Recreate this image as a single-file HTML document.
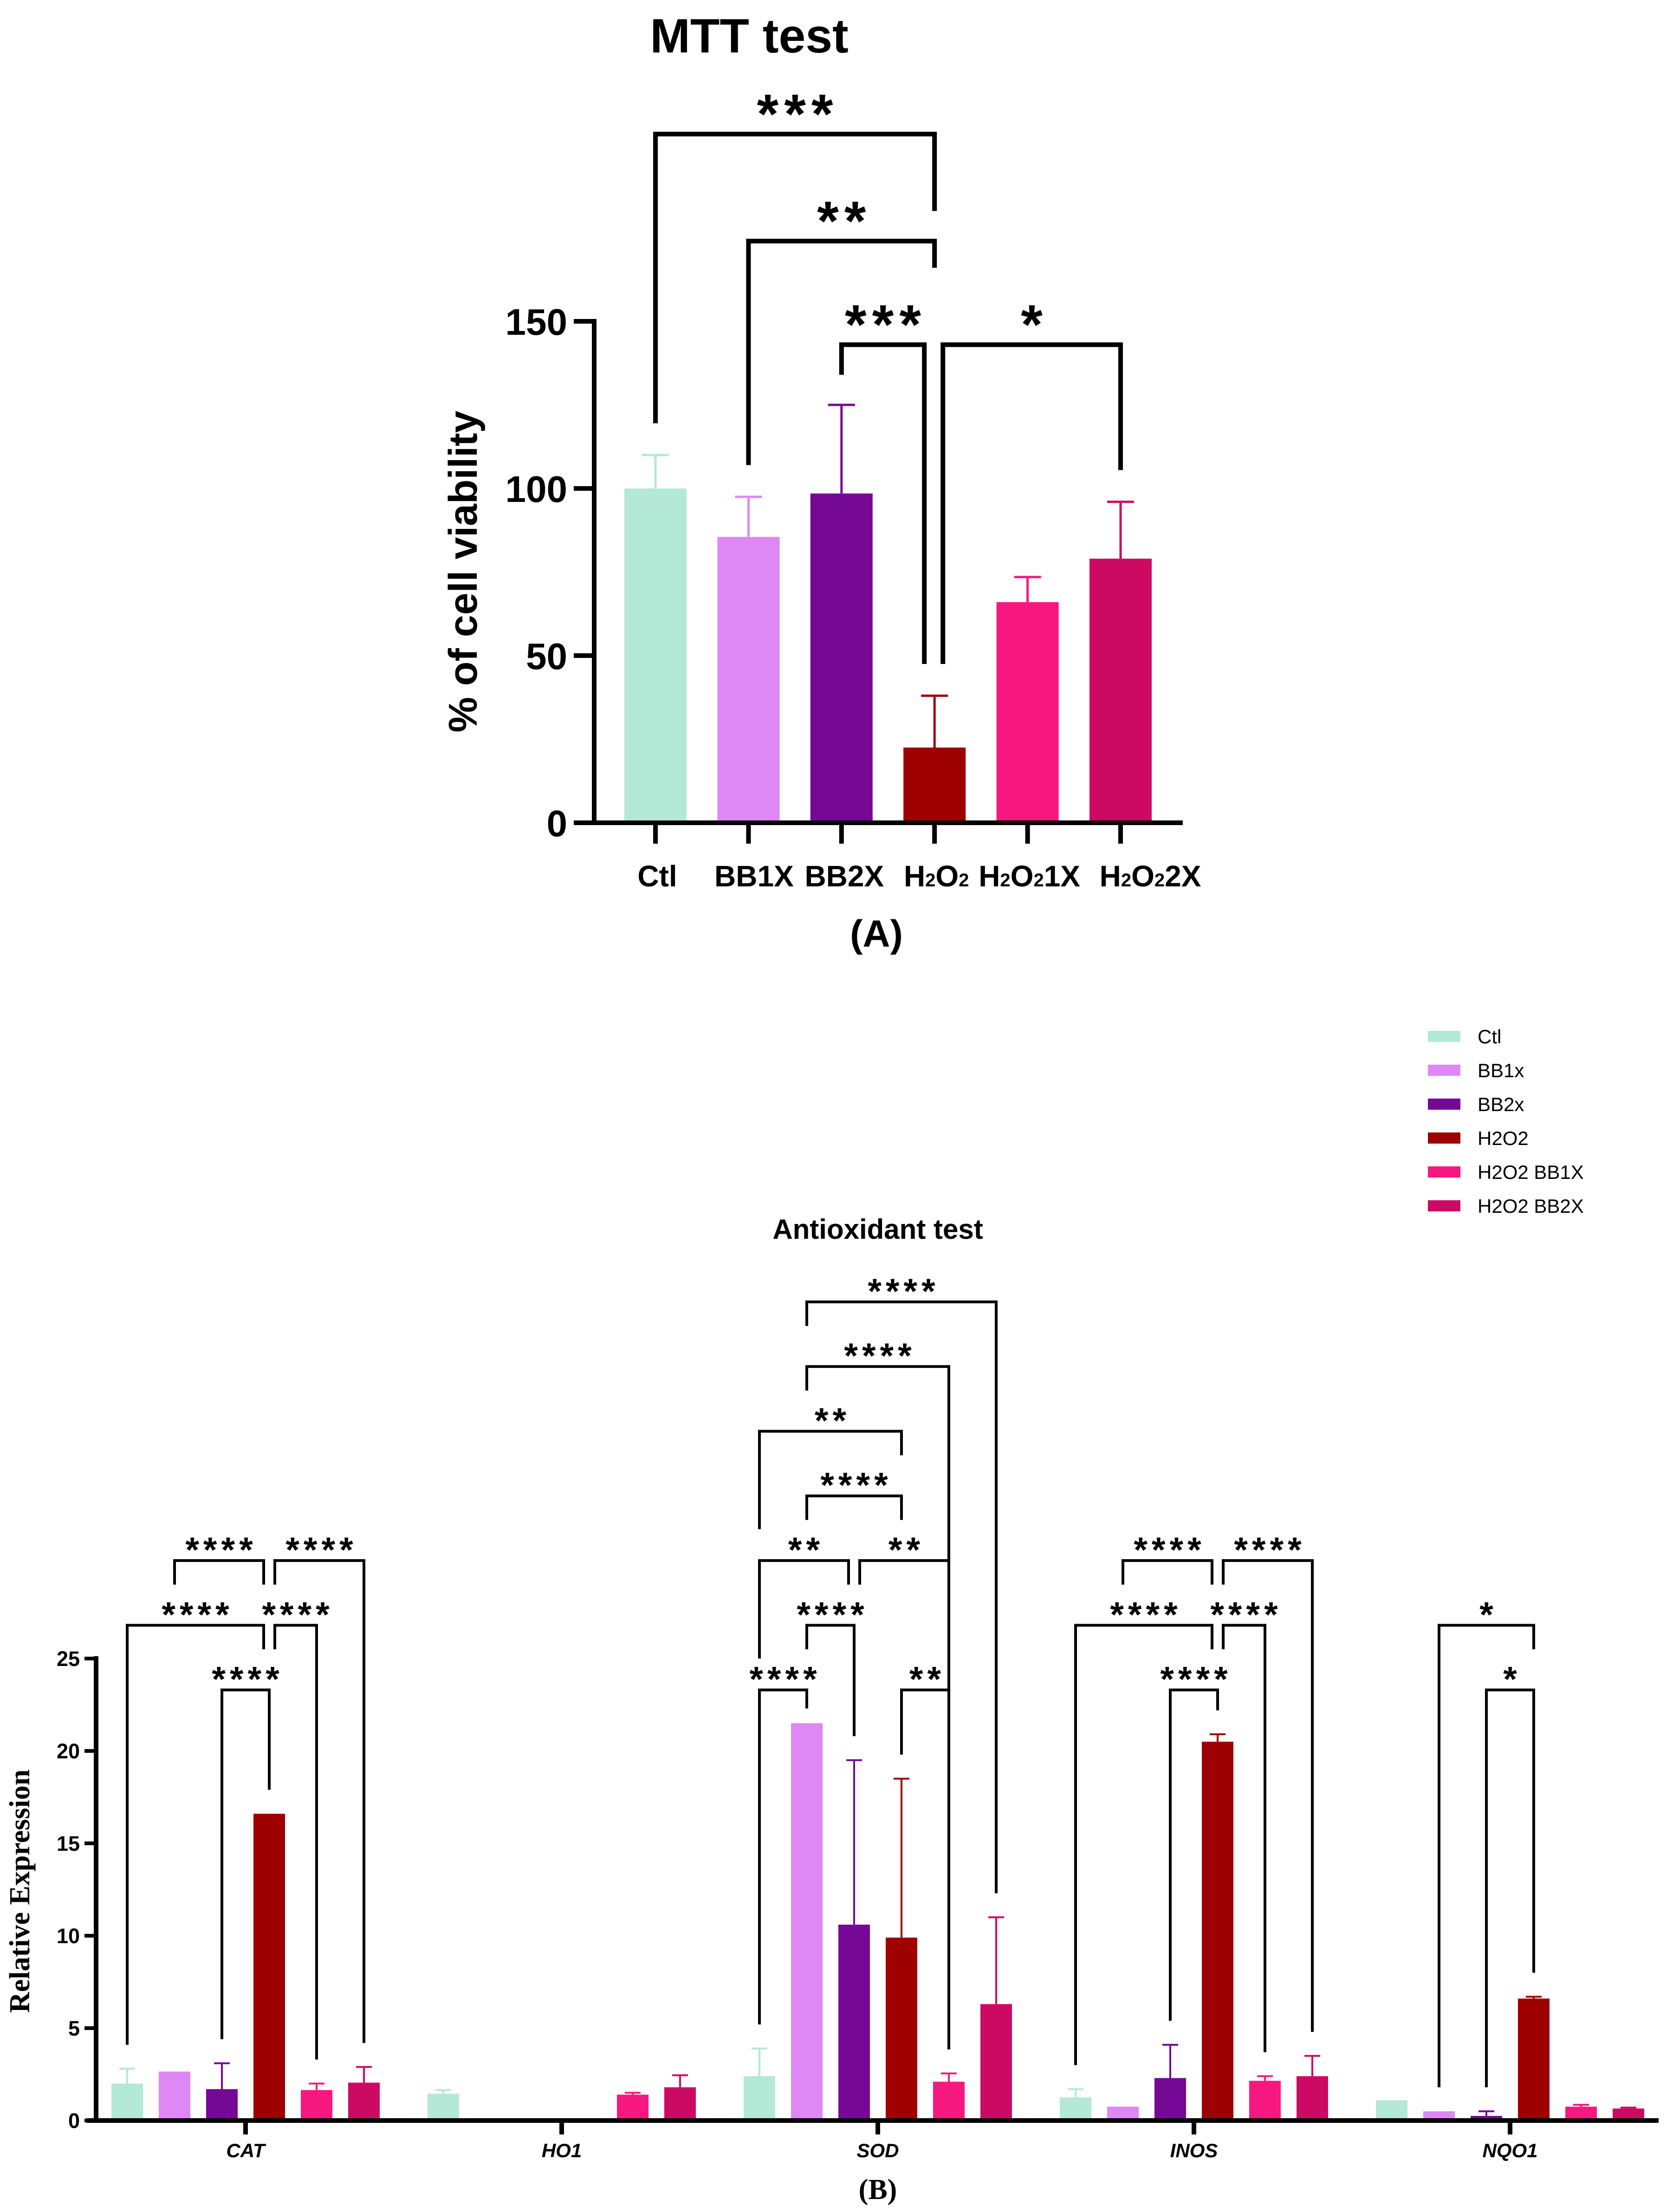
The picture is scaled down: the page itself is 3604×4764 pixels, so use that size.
<!DOCTYPE html>
<html>
<head>
<meta charset="utf-8">
<style>
html,body{margin:0;padding:0;background:#fff;}
svg{display:block;}
text{font-family:"Liberation Sans",sans-serif;}
</style>
</head>
<body>
<svg id="fig" xmlns="http://www.w3.org/2000/svg" width="3604" height="4764" viewBox="0 0 3604 4764">
<rect x="0" y="0" width="3604" height="4764" fill="#fff"/>
<g id="chartA"></g>
<g id="chartB"></g>
</svg>
<script>
// ---------- Panel A data ----------
const mttCategories = ["Ctl", "BB1X", "BB2X", "H_2O_2", "H_2O_21X", "H_2O_22X"];
const mttValues = [100, 85.5, 98.5, 22.5, 66, 79];
const mttErrors = [10, 12, 26.5, 15.5, 7.5, 17];
const mttTicks = [0, 50, 100, 150];
// ---------- Panel B data ----------
const genes = ["CAT", "HO1", "SOD", "INOS", "NQO1"];
const groupNames = ["Ctl", "BB1x", "BB2x", "H2O2", "H2O2 BB1X", "H2O2 BB2X"];
const valCtl   = [2.0, 1.45, 2.4, 1.25, 1.1];
const valBB1x  = [2.65, 0, 21.5, 0.75, 0.5];
const valBB2x  = [1.7, 0, 10.6, 2.3, 0.25];
const valH2O2  = [16.6, 0, 9.9, 20.5, 6.6];
const valH2O2BB1X = [1.65, 1.4, 2.1, 2.15, 0.75];
const valH2O2BB2X = [2.05, 1.8, 6.3, 2.4, 0.65];
const errCtl   = [0.8, 0.2, 1.5, 0.45, 0];
const errBB1x  = [0, 0, 0, 0, 0];
const errBB2x  = [1.4, 0, 8.9, 1.8, 0.25];
const errH2O2  = [0, 0, 8.6, 0.4, 0.1];
const errH2O2BB1X = [0.35, 0.1, 0.45, 0.25, 0.1];
const errH2O2BB2X = [0.85, 0.65, 4.7, 1.1, 0.05];
const bTicks = [0, 5, 10, 15, 20, 25];

const colors = ["#b3e9d6", "#dd88f5", "#760896", "#9f0000", "#f7187f", "#cd0a63"];
const NS = "http://www.w3.org/2000/svg";
function mk(parent, tag, attrs, txt){
  const e = document.createElementNS(NS, tag);
  for (const k in attrs) e.setAttribute(k, attrs[k]);
  if (txt !== undefined) e.textContent = txt;
  parent.appendChild(e);
  return e;
}

// ================= PANEL A =================
(function(){
  const g = document.getElementById('chartA');
  const y0 = 1772, pxU = 7.2;
  const yA = v => y0 - v * pxU;
  const xA = i => 1412 + i * 200.4;
  const bw = 134;
  const labelShift = [4, 12, 6, 4, 4, 64];

  const t = mk(g, 'text', {x:1614, y:113, 'font-size':104, 'font-weight':'bold', 'text-anchor':'middle'}, 'MTT test');
  
  

  mttValues.forEach((v, i) => {
    const r = mk(g, 'rect', {x:xA(i)-bw/2, y:yA(v), width:bw, height:y0-yA(v), fill:colors[i]});
    
    
    const top = yA(v + mttErrors[i]);
    const e = mk(g, 'path', {d:`M${xA(i)},${yA(v)} V${top} M${xA(i)-29},${top} H${xA(i)+29}`, stroke:colors[i], 'stroke-width':5, fill:'none'});
    
    
    const tk = mk(g, 'line', {x1:xA(i), y1:y0, x2:xA(i), y2:y0+45, stroke:'#000', 'stroke-width':10});
    
    
    const lb = mk(g, 'text', {x:xA(i) + labelShift[i], y:1909, 'font-size':64, 'font-weight':'bold', 'text-anchor':'middle'});
    
    
    const parts = mttCategories[i].split('_');
    parts.forEach((p, j) => {
      if (j === 0) { mk(lb, 'tspan', {}, p); return; }
      mk(lb, 'tspan', {'font-size':40}, p[0]);
      if (p.length > 1) mk(lb, 'tspan', {}, p.slice(1));
    });
  });

  const ax = mk(g, 'path', {d:`M1280,${yA(150)-5} V${y0} M1236,${y0} H2548`, stroke:'#000', 'stroke-width':10, fill:'none'});
  
  
  mttTicks.forEach(v => {
    const tk = mk(g, 'line', {x1:1236, y1:yA(v), x2:1280, y2:yA(v), stroke:'#000', 'stroke-width':10});
    
    
    const tl = mk(g, 'text', {x:1222, y:yA(v)+29, 'font-size':80, 'font-weight':'bold', 'text-anchor':'end'}, String(v));
    
    
  });
  const yt = mk(g, 'text', {x:0, y:0, 'font-size':86, 'font-weight':'bold', 'text-anchor':'middle', transform:'translate(1027,1231) rotate(-90)'}, '% of cell viability');
  
  
  const pl = mk(g, 'text', {x:1888, y:2039, 'font-size':82, 'font-weight':'bold', 'text-anchor':'middle'}, '(A)');
  
  

  // significance brackets: [i1, off1, leg1, i2, off2, leg2, level, stars]
  const brA = [
    [0, 0, 'b', 3, 0, 183, 206, '***'],
    [1, 0, 'b', 3, 0, 166, 174, '**'],
    [2, 0, 134, 3, -22, 'b', 143, '***'],
    [3, 18, 'b', 5, 0, 'b', 143, '*']
  ];
  const legEnd = (i, leg) => leg === 'b' ? mttValues[i] + mttErrors[i] + 9.5 : leg;
  brA.forEach(b => {
    const x1 = xA(b[0]) + b[1], x2 = xA(b[3]) + b[4], ly = yA(b[6]);
    const p = mk(g, 'path', {d:`M${x1},${yA(legEnd(b[0], b[2]))} V${ly} H${x2} V${yA(legEnd(b[3], b[5]))}`, stroke:'#000', 'stroke-width':10, fill:'none'});
    
    
    const F = 120, ls = 12;
    const s = mk(g, 'text', {x:(x1+x2)/2 + ls/2, y:ly - 70 + 0.565*F, 'font-size':F, 'font-weight':'bold', 'text-anchor':'middle', 'letter-spacing':ls}, b[7]);
    
    
  });
})();

// ================= PANEL B =================
(function(){
  const g = document.getElementById('chartB');
  const y0 = 4567, pxU = 39.8;
  const yB = v => y0 - v * pxU;
  const gx = k => 529 + k * 681;
  const bx = (k, i) => gx(k) + (i - 2.5) * 102;
  const bw = 68;
  const vals = [valCtl, valBB1x, valBB2x, valH2O2, valH2O2BB1X, valH2O2BB2X];
  const errs = [errCtl, errBB1x, errBB2x, errH2O2, errH2O2BB1X, errH2O2BB2X];

  groupNames.forEach((n, i) => {
    const r = mk(g, 'rect', {x:3076, y:2220 + i*73, width:70, height:24, fill:colors[i]});
    
    
    const t = mk(g, 'text', {x:3183, y:2247 + i*73, 'font-size':42}, n);
    
    
  });
  const ti = mk(g, 'text', {x:1891, y:2668, 'font-size':60, 'font-weight':'bold', 'text-anchor':'middle'}, 'Antioxidant test');
  
  

  genes.forEach((gn, k) => {
    vals.forEach((arr, i) => {
      const v = arr[k];
      if (v <= 0) return;
      const r = mk(g, 'rect', {x:bx(k,i)-bw/2, y:yB(v), width:bw, height:y0-yB(v), fill:colors[i]});
      
      
      const e = errs[i][k];
      if (e > 0) {
        const top = yB(v + e);
        const p = mk(g, 'path', {d:`M${bx(k,i)},${yB(v)} V${top} M${bx(k,i)-17},${top} H${bx(k,i)+17}`, stroke:colors[i], 'stroke-width':4, fill:'none'});
        
        
      }
    });
    const tk = mk(g, 'line', {x1:gx(k), y1:y0, x2:gx(k), y2:y0+30, stroke:'#000', 'stroke-width':10});
    
    
    const lb = mk(g, 'text', {x:gx(k), y:4646, 'font-size':42, 'font-weight':'bold', 'font-style':'italic', 'text-anchor':'middle'}, gn);
    
    
  });

  const ax = mk(g, 'path', {d:`M207,${yB(25)-5} V${y0} M186,${y0} H3573`, stroke:'#000', 'stroke-width':10, fill:'none'});
  
  
  bTicks.forEach(v => {
    const tk = mk(g, 'line', {x1:182, y1:yB(v), x2:207, y2:yB(v), stroke:'#000', 'stroke-width':8});
    
    
    const tl = mk(g, 'text', {x:172, y:yB(v)+16, 'font-size':45, 'font-weight':'bold', 'text-anchor':'end'}, String(v));
    
    
  });
  const yt = mk(g, 'text', {x:0, y:0, 'font-size':62, 'font-weight':'bold', 'text-anchor':'middle', transform:'translate(63,4073) rotate(-90)', style:'font-family:"Liberation Serif",serif'}, 'Relative Expression');
  
  
  const pl = mk(g, 'text', {x:1891, y:4736, 'font-size':62, 'font-weight':'bold', 'text-anchor':'middle', style:'font-family:"Liberation Serif",serif'}, '(B)');
  
  

  // brackets: [gene, i1, off1, leg1, i2, off2, leg2, levelIndex, stars]
  const brB = [
    [0,1,0,'s',3,-12,'s',2,'****'],[0,3,12,'s',5,0,'b',2,'****'],
    [0,0,0,'b',3,-12,'s',1,'****'],[0,3,12,'s',4,0,'b',1,'****'],
    [0,2,0,'b',3,0,'b',0,'****'],
    [3,1,0,'s',3,-12,'s',2,'****'],[3,3,12,'s',5,0,'b',2,'****'],
    [3,0,0,'b',3,-12,'s',1,'****'],[3,3,12,'s',4,0,'b',1,'****'],
    [3,2,0,'b',3,0,'b',0,'****'],
    [2,1,0,'s',5,0,'b',6,'****'],
    [2,1,0,'s',4,0,'b',5,'****'],
    [2,0,0,2,3,0,'s',4,'**'],
    [2,1,0,'s',3,0,'s',3,'****'],
    [2,0,0,0,2,-12,'s',2,'**'],[2,2,12,'s',4,0,0,2,'**'],
    [2,1,0,'s',2,0,'b',1,'****'],
    [2,0,0,'b',1,0,'b',0,'****'],[2,3,0,'b',4,0,'b',0,'**'],
    [4,1,0,'b',3,0,'s',1,'*'],
    [4,2,0,'b',3,0,'b',0,'*']
  ];
  const level = L => 23.3 + 3.5 * L;
  function legEndV(k, i, leg, L){
    if (leg === 's') return level(L) - 1.3;
    if (leg === 'b') return Math.min(vals[i][k] + errs[i][k] + 1.3, level(L) - 1.0);
    return level(leg) + 1.7;
  }
  brB.forEach(b => {
    const k = b[0];
    const x1 = bx(k, b[1]) + b[2], x2 = bx(k, b[4]) + b[5], ly = yB(level(b[7]));
    const p = mk(g, 'path', {d:`M${x1},${yB(legEndV(k,b[1],b[3],b[7]))} V${ly} H${x2} V${yB(legEndV(k,b[4],b[6],b[7]))}`, stroke:'#000', 'stroke-width':6, fill:'none'});
    
    
    const F = 76, ls = 9;
    const s = mk(g, 'text', {x:(x1+x2)/2 + ls/2, y:ly - 40 + 0.565*F, 'font-size':F, 'font-weight':'bold', 'text-anchor':'middle', 'letter-spacing':ls}, b[8]);
    
    
  });
})();
</script>
</body>
</html>
